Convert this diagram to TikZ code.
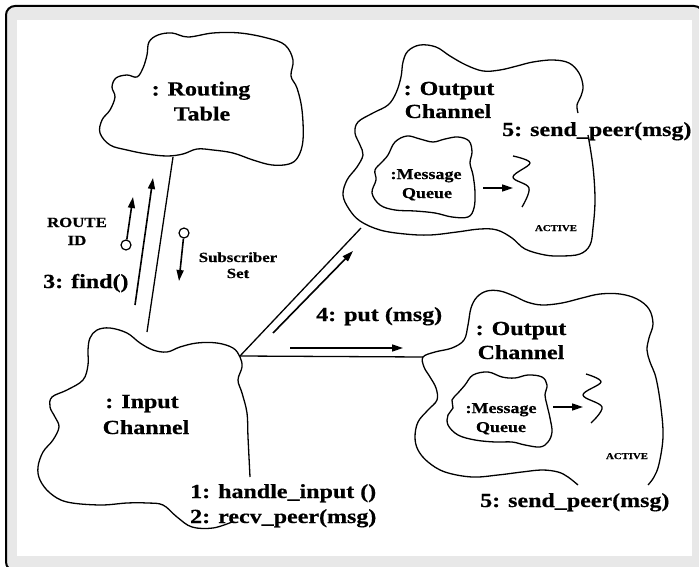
\documentclass[tikz,border=0pt]{standalone}
\usepackage{fontspec}
\setmainfont{Liberation Serif}[BoldFeatures={FakeBold=0.5}]
\usepackage{graphicx}
\usetikzlibrary{arrows.meta}
\newcommand{\hsc}[1]{\scalebox{1.2}[1]{#1}}
\begin{document}
\begin{tikzpicture}[x=1pt,y=-1pt,
  cloudc/.style={line width=1.3pt, smooth cycle, tension=0.6},
  cloudo/.style={line width=1.3pt, smooth, tension=0.6},
  link/.style={line width=1.3pt},
  msgarrow/.style={line width=1.6pt, -{Triangle[length=11pt,width=7pt]}},
  big/.style={font=\fontsize{20}{24}\selectfont\bfseries, inner sep=0pt},
  mid/.style={font=\fontsize{15}{18}\selectfont\bfseries, inner sep=0pt},
  small/.style={font=\fontsize{14}{17}\selectfont\bfseries, inner sep=0pt},
  tiny/.style={font=\fontsize{9}{11}\selectfont\bfseries, inner sep=0pt},
  dot/.style={circle, draw, line width=1.2pt, fill=white, minimum size=10pt, inner sep=0pt}
]
\useasboundingbox (0,0) rectangle (699,567);
\begin{scope}
\clip (0,0) rectangle (699,567);
\fill[white] (0,0) rectangle (699,567);
\draw[line width=2pt, fill=black!9, rounded corners=9pt] (6,6) rectangle (703,571);
\fill[white] (17,20) rectangle (692,556);
\end{scope}

% Routing table cloud
\draw[cloudc] plot coordinates {(147,55) (149,42) (158,35) (172,33) (188,37) (213,33) (240,33) (267,38) (285,45) (293,60) (291,76) (297,88) (302,110) (303,140) (298,157) (289,164) (272,165) (253,160) (233,153) (213,150) (197,149) (183,154) (167,156) (147,154) (127,150) (110,145) (100,133) (102,120) (110,110) (115,97) (112,87) (116,78) (127,75) (137,77) (143,68)};

% Input channel cloud (open)
\draw[cloudo] plot coordinates {(250,477) (248,437) (247,413) (242,393) (238,380) (242,367) (240,357) (233,348) (217,343) (197,343) (180,347) (167,352) (153,350) (140,343) (127,333) (110,328) (97,330) (90,338) (88,350) (88,365) (83,380) (67,390) (52,397) (50,407) (55,417) (59,427) (53,440) (43,452) (38,467) (40,480) (50,493) (67,502) (100,505) (127,503) (147,503) (163,505) (177,517) (192,527) (213,528) (232,522)};

% Output channel A (open)
\draw[cloudo] plot coordinates {(578,113) (577,105) (581,96) (583,86) (579,73) (569,63) (553,60) (533,62) (517,66) (500,70) (483,71) (466,65) (450,56) (436,47) (420,45) (408,51) (403,62) (401,77) (396,93) (388,105) (373,113) (358,122) (355,133) (360,145) (363,155) (357,167) (347,180) (343,195) (349,209) (360,221) (380,230) (405,234) (430,235) (457,232) (480,229) (497,230) (512,238) (525,249) (545,255) (562,256) (580,254) (590,245) (593,228) (595,200) (593,167) (588,135)};
\draw[cloudc] plot coordinates {(388,155) (395,142) (407,136) (420,139) (433,142) (445,139) (458,137) (469,141) (472,152) (470,163) (473,175) (475,192) (474,208) (468,217) (452,217) (435,213) (415,211) (395,210) (380,205) (372,193) (376,180) (375,170) (382,162)};
\draw[cloudo] plot coordinates {(513,156) (530,163) (513,177) (529,188) (522,207)};

% Output channel B (open)
\draw[cloudo] plot coordinates {(578,485) (568,477) (558,472) (542,470) (522,472) (498,475) (472,477) (445,472) (428,462) (418,450) (415,437) (418,422) (428,410) (437,400) (436,388) (430,377) (424,367) (423,357) (435,352) (452,348) (464,340) (468,325) (471,308) (477,297) (487,291) (500,291) (514,296) (527,302) (542,305) (562,303) (582,298) (600,294) (620,294) (637,299) (649,309) (653,324) (649,338) (647,350) (650,362) (656,378) (661,408) (663,437) (659,464) (654,477) (648,485)};
\draw[cloudc] plot coordinates {(465,385) (473,375) (488,372) (502,377) (515,378) (528,375) (542,377) (547,385) (545,395) (547,405) (550,418) (552,432) (548,442) (540,447) (525,445) (512,442) (495,442) (475,440) (458,435) (448,425) (448,415) (453,408) (452,400) (458,393)};
\draw[cloudo] plot coordinates {(586,374) (601,382) (583,395) (602,407) (591,423)};

% links
\coordinate (rtB) at (173,157);
\coordinate (inT) at (147,332);
\coordinate (inR) at (240,356);
\coordinate (ocaL) at (361,228);
\coordinate (ocbL) at (423,357);
\draw[link] (rtB) -- (inT);
\draw[link] (inR) -- (ocaL);
\draw[link] (inR) -- (ocbL);

% message arrows
\coordinate (f0) at (135,305); \coordinate (f1) at (153,178);
\draw[msgarrow] (f0) -- (f1);
\node[dot] (rc) at (126,245) {};
\coordinate (r1) at (133,197);
\draw[msgarrow] (rc) -- (r1);
\node[dot] (sc) at (184,233) {};
\coordinate (s1) at (179,281);
\draw[msgarrow] (sc) -- (s1);
\coordinate (p0) at (273,333); \coordinate (p1) at (353,251);
\draw[msgarrow] (p0) -- (p1);
\coordinate (q0) at (290,348); \coordinate (q1) at (403,348);
\draw[msgarrow] (q0) -- (q1);
\coordinate (ma0) at (483,188); \coordinate (ma1) at (513,188);
\draw[msgarrow] (ma0) -- (ma1);
\coordinate (mb0) at (553,407); \coordinate (mb1) at (583,407);
\draw[msgarrow] (mb0) -- (mb1);

% labels
\node[big, anchor=base] (rt1) at (201,95.5) {\hsc{: Routing}};
\node[big, anchor=base] (rt2) at (202,120.5) {\hsc{Table}};
\node[big, anchor=base] (oa1) at (449,95) {\hsc{: Output}};
\node[big, anchor=base] (oa2) at (448,118) {\hsc{Channel}};
\node[big, anchor=base west] (oa5) at (502,136) {\hsc{5: send\_peer(msg)}};
\node[mid, anchor=base] (qa1) at (426,179) {\hsc{:Message}};
\node[mid, anchor=base] (qa2) at (427,198) {\hsc{Queue}};
\node[tiny, anchor=base] (acta) at (556,231) {\hsc{ACTIVE}};
\node[small, anchor=base] (rid1) at (77,227) {\hsc{ROUTE}};
\node[small, anchor=base] (rid2) at (77,245) {\hsc{ID}};
\node[small, anchor=base] (ss1) at (238,262) {\hsc{Subscriber}};
\node[small, anchor=base] (ss2) at (238,278) {\hsc{Set}};
\node[big, anchor=base west] (find) at (43,288) {\hsc{3: find()}};
\node[big, anchor=base west] (put) at (316,321) {\hsc{4: put (msg)}};
\node[big, anchor=base] (in1) at (142,408) {\hsc{: Input}};
\node[big, anchor=base] (in2) at (146,434) {\hsc{Channel}};
\node[big, anchor=base west] (h1) at (190,498) {\hsc{1: handle\_input ()}};
\node[big, anchor=base west] (h2) at (190,523) {\hsc{2: recv\_peer(msg)}};
\node[big, anchor=base] (ob1) at (521,335) {\hsc{: Output}};
\node[big, anchor=base] (ob2) at (521,359) {\hsc{Channel}};
\node[mid, anchor=base] (qb1) at (501,413) {\hsc{:Message}};
\node[mid, anchor=base] (qb2) at (501,432) {\hsc{Queue}};
\node[tiny, anchor=base] (actb) at (627,459) {\hsc{ACTIVE}};
\node[big, anchor=base west] (ob5) at (480,507) {\hsc{5: send\_peer(msg)}};
\end{tikzpicture}
\end{document}
